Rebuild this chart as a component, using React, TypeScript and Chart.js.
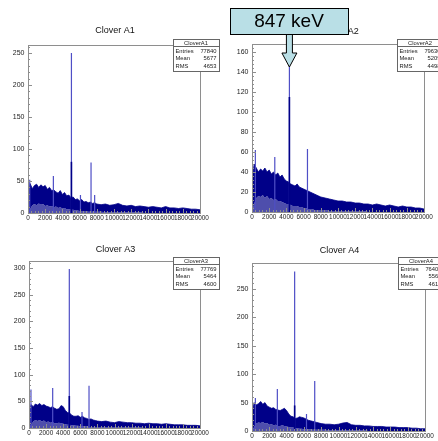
import React, { useEffect, useRef } from 'react';
import { Chart, registerables } from 'chart.js';
Chart.register(...registerables);

// ---- data ----
const bandX = [0, 250, 500, 750, 1000, 1250, 1500, 1750, 2000, 2250, 2500, 2750, 3000, 3250, 3500, 3750, 4000, 4250, 4500, 4750, 5000, 5250, 5500, 5750, 6000, 6250, 6500, 6750, 7000, 7250, 7500, 7750, 8000,
  8500, 9000, 9500, 10000, 10500, 11000, 11500, 12000, 12500, 13000, 13500, 14000, 14500, 15000, 15500, 16000, 16500, 17000, 17500, 18000, 18500, 19000, 19500, 20000];

const a1Upper = [30, 46, 38, 43, 45, 40, 44, 41, 43, 37, 40, 35, 36, 33, 31, 35, 29, 32, 27, 28, 24, 25, 21, 22, 19, 21, 17, 18, 16, 17, 15, 16, 14,
  13, 14, 12, 13, 15, 12, 11, 12, 10, 11, 10, 9, 10, 9, 8, 10, 8, 8, 7, 8, 7, 6, 6, 5];
const a1Lower = [0, 6, 12, 14, 12, 15, 13, 14, 11, 12, 10, 11, 9, 10, 8, 9, 7, 8, 6, 6, 5, 5, 4, 4, 3, 3, 3, 3, 2, 2, 2, 2, 2,
  2, 1, 1, 1, 1, 1, 1, 1, 1, 1, 0, 0, 0, 0, 0, 0, 0, 0, 0, 0, 0, 0, 0, 0];
const a1PeakX = [200, 2950, 5050, 6100, 7330, 7750];
const a1PeakY = [52, 58, 250, 28, 79, 28];
const a1CoreX = [5050];
const a1CoreY = [80];
const a1Stats = ['77840', '5677', '4653'];

const a2Upper = [30, 48, 44, 40, 43, 41, 44, 40, 42, 38, 40, 37, 39, 35, 37, 33, 31, 30, 28, 27, 26, 28, 25, 24, 23, 22, 21, 20, 19, 18, 17, 16, 15,
  14, 13, 12, 11, 11, 10, 10, 9, 9, 8, 8, 7, 8, 7, 6, 7, 6, 5, 6, 5, 5, 4, 4, 3];
const a2Lower = [0, 8, 14, 16, 15, 17, 14, 16, 13, 14, 12, 13, 11, 11, 10, 9, 8, 8, 7, 6, 6, 6, 5, 5, 4, 4, 3, 3, 3, 2, 2, 2, 2,
  2, 1, 1, 1, 1, 1, 1, 1, 1, 1, 0, 0, 0, 0, 0, 0, 0, 0, 0, 0, 0, 0, 0, 0];
const a2PeakX = [390, 2650, 4350, 6450];
const a2PeakY = [62, 55, 160, 63];
const a2CoreX = [4350];
const a2CoreY = [115];
const a2Stats = ['79630', '5209', '4498'];

const a3Upper = [28, 44, 40, 45, 43, 46, 42, 44, 41, 40, 38, 40, 37, 35, 36, 42, 40, 33, 29, 28, 24, 22, 22, 23, 20, 22, 19, 18, 16, 17, 15, 14, 13,
  12, 13, 11, 10, 12, 11, 10, 10, 9, 9, 8, 9, 8, 8, 7, 8, 7, 6, 6, 6, 5, 5, 5, 4];
const a3Lower = [0, 6, 12, 15, 13, 15, 12, 14, 11, 12, 10, 11, 9, 9, 10, 9, 8, 7, 6, 6, 5, 5, 4, 4, 3, 3, 3, 3, 2, 2, 2, 2, 2,
  2, 1, 1, 1, 1, 1, 1, 1, 1, 1, 0, 0, 0, 0, 0, 0, 0, 0, 0, 0, 0, 0, 0, 0];
const a3PeakX = [230, 2770, 4715, 6200, 7020];
const a3PeakY = [72, 75, 298, 30, 79];
const a3CoreX = [4715];
const a3CoreY = [60];
const a3Stats = ['77769', '5464', '4600'];

const a4Upper = [30, 50, 46, 48, 52, 47, 50, 44, 42, 40, 41, 38, 37, 36, 38, 40, 36, 30, 26, 25, 22, 23, 25, 24, 23, 21, 19, 18, 17, 16, 15, 14, 13,
  12, 12, 11, 12, 14, 15, 11, 10, 10, 9, 9, 8, 8, 8, 7, 7, 7, 6, 6, 6, 5, 5, 4, 4];
const a4Lower = [0, 7, 13, 15, 14, 16, 13, 14, 11, 12, 10, 11, 9, 9, 10, 9, 8, 7, 6, 6, 5, 5, 4, 4, 3, 3, 3, 3, 2, 2, 2, 2, 2,
  2, 1, 1, 1, 1, 1, 1, 1, 1, 1, 0, 0, 0, 0, 0, 0, 0, 0, 0, 0, 0, 0, 0, 0];
const a4PeakX = [390, 2930, 4930, 6300, 7250];
const a4PeakY = [58, 74, 281, 30, 88];
const a4CoreX = [4930];
const a4CoreY = [45];
const a4Stats = ['76405', '5561', '4618'];

const statLabels = ['Entries', 'Mean', 'RMS'];
const calloutText = '847 keV';

// ---- styles / layout ----
const FONT = '"Liberation Sans", Arial, Helvetica, sans-serif';
const NAVY = '#000088';
const THIN = '#4f4fc6';
const FRAME = '#8e8e8e';

type Panel = {
  title: string; hist: string;
  upper: number[]; lower: number[];
  peakX: number[]; peakY: number[]; coreX: number[]; coreY: number[];
  stats: string[];
  yMax: number; yStep: number; yMinor: number;
  left: number; top: number; w: number; h: number;
  padTop: number; padRight: number; yWidth: number; yPad: number; xHeight: number;
  titleY: number; boxTop: number; callout?: number;
};

const panels: Panel[] = [
  { title: 'Clover A1', hist: 'CloverA1', upper: a1Upper, lower: a1Lower, peakX: a1PeakX, peakY: a1PeakY, coreX: a1CoreX, coreY: a1CoreY, stats: a1Stats,
    yMax: 262.5, yStep: 50, yMinor: 10, left: 0, top: 0, w: 220, h: 222, padTop: 45, padRight: 20, yWidth: 28, yPad: 3.5, xHeight: 9, titleY: 31, boxTop: 39 },
  { title: 'Clover A2', hist: 'CloverA2', upper: a2Upper, lower: a2Lower, peakX: a2PeakX, peakY: a2PeakY, coreX: a2CoreX, coreY: a2CoreY, stats: a2Stats,
    yMax: 168, yStep: 20, yMinor: 4, left: 218, top: 0, w: 220, h: 222, padTop: 44, padRight: 14, yWidth: 34, yPad: 3.5, xHeight: 10, titleY: 32, boxTop: 39, callout: 4350 },
  { title: 'Clover A3', hist: 'CloverA3', upper: a3Upper, lower: a3Lower, peakX: a3PeakX, peakY: a3PeakY, coreX: a3CoreX, coreY: a3CoreY, stats: a3Stats,
    yMax: 313, yStep: 50, yMinor: 10, left: 0, top: 220, w: 220, h: 221, padTop: 41, padRight: 20, yWidth: 29, yPad: 3.5, xHeight: 13, titleY: 30, boxTop: 37 },
  { title: 'Clover A4', hist: 'CloverA4', upper: a4Upper, lower: a4Lower, peakX: a4PeakX, peakY: a4PeakY, coreX: a4CoreX, coreY: a4CoreY, stats: a4Stats,
    yMax: 296, yStep: 50, yMinor: 10, left: 218, top: 220, w: 220, h: 221, padTop: 43, padRight: 13, yWidth: 34, yPad: 3.5, xHeight: 10, titleY: 30.5, boxTop: 37 },
];

function spikes(xs: number[], ys: number[]) {
  const out: any[] = [];
  xs.forEach((x, i) => { out.push({ x, y: 0 }, { x, y: ys[i] }, { x, y: null }); });
  return out;
}

function makePlugin(p: Panel) {
  return {
    id: 'rootDeco',
    afterDraw(chart: any) {
      const { ctx, chartArea: a, scales } = chart;
      const xs = scales.x, ys = scales.y;
      ctx.save();
      // frame
      ctx.strokeStyle = FRAME;
      ctx.lineWidth = 1;
      ctx.strokeRect(Math.round(a.left) + 0.5, Math.round(a.top) + 0.5, Math.round(a.right - a.left), Math.round(a.bottom - a.top));
      // inward ticks
      ctx.beginPath();
      for (let v = 0; v <= p.yMax + 1e-6; v += p.yMinor) {
        const y = Math.round(ys.getPixelForValue(v)) + 0.5;
        const len = Math.abs(v % p.yStep) < 1e-6 ? 4 : 2;
        ctx.moveTo(a.left, y); ctx.lineTo(a.left + len, y);
      }
      for (let v = 0; v <= 20000; v += 400) {
        const x = Math.round(xs.getPixelForValue(v)) + 0.5;
        const len = v % 2000 === 0 ? 4 : 2;
        ctx.moveTo(x, a.bottom); ctx.lineTo(x, a.bottom - len);
      }
      ctx.stroke();
      // title
      ctx.fillStyle = '#111';
      ctx.font = `9px ${FONT}`;
      ctx.textAlign = 'center';
      ctx.textBaseline = 'middle';
      ctx.fillText(p.title, (a.left + a.right) / 2 + 1, p.titleY);
      // stats box
      const bx = Math.round(a.right) - 27, by = p.boxTop, bw = 46, bh = 32;
      ctx.fillStyle = '#fff';
      ctx.fillRect(bx, by, bw, bh);
      ctx.strokeStyle = '#666';
      ctx.strokeRect(bx + 0.5, by + 0.5, bw, bh);
      ctx.beginPath();
      ctx.moveTo(bx, by + 7.5); ctx.lineTo(bx + bw, by + 7.5);
      ctx.stroke();
      ctx.fillStyle = '#222';
      ctx.font = `5.8px ${FONT}`;
      ctx.fillText(p.hist, bx + bw / 2, by + 4);
      const rowY = [by + 12, by + 19.5, by + 27];
      statLabels.forEach((lab, i) => {
        ctx.textAlign = 'left';
        ctx.fillText(lab, bx + 2.5, rowY[i]);
        ctx.textAlign = 'right';
        ctx.fillText(p.stats[i], bx + bw - 2.5, rowY[i]);
      });
      // callout
      if (p.callout !== undefined) {
        const tx = xs.getPixelForValue(p.callout);
        const boxL = 12, boxR = 130, boxT = 8, boxB = 34;
        ctx.fillStyle = '#b9dfe6';
        ctx.strokeStyle = '#000';
        ctx.lineWidth = 1;
        ctx.beginPath();
        ctx.moveTo(tx - 3, boxB);
        ctx.lineTo(tx - 3, 53);
        ctx.lineTo(tx - 7.5, 53);
        ctx.lineTo(tx, 67);
        ctx.lineTo(tx + 7.5, 53);
        ctx.lineTo(tx + 3, 53);
        ctx.lineTo(tx + 3, boxB);
        ctx.closePath();
        ctx.fill();
        ctx.stroke();
        ctx.fillRect(boxL, boxT, boxR - boxL, boxB - boxT);
        ctx.strokeRect(boxL + 0.5, boxT + 0.5, boxR - boxL, boxB - boxT);
        ctx.fillStyle = '#000';
        ctx.font = `19px ${FONT}`;
        ctx.textAlign = 'center';
        ctx.textBaseline = 'middle';
        ctx.fillText(calloutText, (boxL + boxR) / 2, 22);
      }
      ctx.restore();
    },
  };
}

function PanelChart({ p }: { p: Panel }) {
  const ref = useRef<HTMLCanvasElement>(null);
  useEffect(() => {
    if (!ref.current) return;
    const lower = bandX.map((x, i) => ({ x, y: p.lower[i] }));
    const upper = bandX.map((x, i) => ({ x, y: p.upper[i] }));
    const chart = new Chart(ref.current, {
      type: 'line',
      data: {
        datasets: [
          { data: lower, borderWidth: 0, borderColor: NAVY, backgroundColor: 'rgba(10,10,140,0.72)', fill: 'origin', pointRadius: 0, order: 3 },
          { data: upper, borderWidth: 0.8, borderColor: NAVY, backgroundColor: NAVY, fill: '-1', pointRadius: 0, order: 2 },
          { data: spikes(p.peakX, p.peakY), borderWidth: 1.2, borderColor: THIN, fill: false, pointRadius: 0, spanGaps: false, order: 1 },
          { data: spikes(p.coreX, p.coreY), borderWidth: 1.6, borderColor: NAVY, fill: false, pointRadius: 0, spanGaps: false, order: 0 },
        ] as any,
      },
      options: {
        responsive: false,
        animation: false,
        devicePixelRatio: 1,
        layout: { padding: { left: 0, top: p.padTop, right: p.padRight, bottom: 0 } },
        elements: { line: { tension: 0 } },
        plugins: { legend: { display: false }, tooltip: { enabled: false }, title: { display: false } },
        scales: {
          x: {
            type: 'linear', min: 0, max: 20000,
            grid: { display: false, drawTicks: false },
            border: { display: false },
            ticks: {
              stepSize: 2000, autoSkip: false, maxRotation: 0, minRotation: 0, padding: 1,
              color: '#222', font: { family: FONT, size: 6.4 },
              callback: (v: any) => String(v),
            },
            afterFit: (s: any) => { s.height = p.xHeight; },
          },
          y: {
            type: 'linear', min: 0, max: p.yMax,
            grid: { display: false, drawTicks: false },
            border: { display: false },
            ticks: {
              stepSize: p.yStep, includeBounds: false, padding: p.yPad,
              color: '#222', font: { family: FONT, size: 7 },
              callback: (v: any) => String(v),
            },
            afterBuildTicks: (s: any) => { s.ticks = s.ticks.filter((t: any) => Math.abs(t.value % p.yStep) < 1e-6); },
            afterFit: (s: any) => { s.width = p.yWidth; },
          },
        },
      } as any,
      plugins: [makePlugin(p)],
    });
    return () => chart.destroy();
  }, [p]);
  return (
    <canvas ref={ref} width={p.w} height={p.h}
      style={{ position: 'absolute', left: p.left, top: p.top, width: p.w, height: p.h }} />
  );
}

export default function App() {
  return (
    <div style={{ position: 'absolute', left: 0, top: 0, width: 438, height: 441, background: '#fff', overflow: 'hidden' }}>
      {panels.map((p) => <PanelChart key={p.hist} p={p} />)}
    </div>
  );
}
